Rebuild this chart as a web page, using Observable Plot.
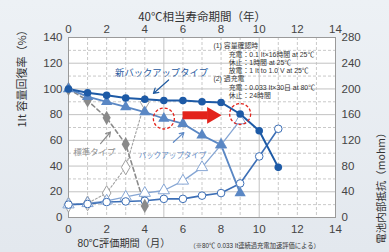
<!DOCTYPE html>
<html><head><meta charset="utf-8">
<script src="https://cdn.jsdelivr.net/npm/d3@7"></script>
<script src="https://cdn.jsdelivr.net/npm/@observablehq/plot@0.6"></script>
<style>
html,body{margin:0;padding:0;overflow:hidden;background:#e9edf1;}
</style>
</head><body>
<div id="chart"></div>
<script>
// ---- data ----
const months = [0,1,2,3,4,5,6,7,8,9,10,11];
const newCap    = [100, 97, 95, 93, 92, 91, 91, 90, 89.5, 80.5, 67.5, 39];      // 新バックアップタイプ 容量 (%)
const backupCap = [100, 94, 90, 86, 82, 77, 73, 64, 56.5, 19];                  // バックアップタイプ 容量 (%)
const stdCap    = [100, 91, 77.5, 57, 9];                                       // 標準タイプ 容量 (%)
const newRes    = [20, 21, 24, 25, 26, 29, 29, 34, 38, 53, 95, 138];            // 新バックアップタイプ 抵抗 (mohm)
const backupRes = [20, 22, 26, 32, 38, 42, 57, 78, 113, 151];                   // バックアップタイプ 抵抗 (mohm)
const stdRes    = [20, 22, 38, 78, 179];                                        // 標準タイプ 抵抗 (mohm)
const xTicks = [0,2,4,6,8,10,12,14];
const yTicks = [0,20,40,60,80,100,120,140];
const resPerPct = 2; // right axis: 280 mohm ↔ 140 %
const titleTop = "40℃相当寿命期間（年）";
const titleBottom = "80℃評価期間（月）";
const noteBottom = "（※80℃ 0.033 It連続過充電加速評価による）";
const titleLeft = "1It 容量回復率（%）";
const titleRight = "電池内部抵抗（mohm）";
const labels = [
  {x: 4.88, y: 112.5, text: "新バックアップタイプ", key: "new"},
  {x: 1.36, y: 50.5, text: "標準タイプ", key: "std"},
  {x: 5.45, y: 48.5, text: "バックアップタイプ", key: "bk"}
];
const pointers = [
  {x1: 5.25, y1: 107, x2: 4.45, y2: 96.5, key: "new"},
  {x1: 1.68, y1: 57.5, x2: 2.2, y2: 66.5, key: "std"},
  {x1: 5.5, y1: 58.5, x2: 6.05, y2: 66, key: "bk"}
];
const conditions = [
  {x: 7.6, y: 133.2, text: "(1) 容量確認時"},
  {x: 8.4, y: 126.8, text: "充電：0.1 It×16時間 at 25℃"},
  {x: 8.4, y: 120.4, text: "休止：1時間 at 25℃"},
  {x: 8.4, y: 114, text: "放電：1 It to 1.0 V at 25℃"},
  {x: 7.6, y: 107.6, text: "(2) 過充電"},
  {x: 8.4, y: 101.2, text: "充電：0.033 It×30日 at 80℃"},
  {x: 8.4, y: 94.8, text: "休止：24時間"}
];
const redArrow = {from: 5.98, to: 7.3, head: 7.52, y: 79.5};

// ---- build ----
const ser = (arr, f = v => v) => arr.map((v, i) => ({x: months[i], y: f(v)}));
const sNewCap = ser(newCap), sBkCap = ser(backupCap), sStdCap = ser(stdCap);
const toPct = v => v / resPerPct;
const sNewRes = ser(newRes, toPct), sBkRes = ser(backupRes, toPct), sStdRes = ser(stdRes, toPct);
const highlights = [{x: 5, y: backupCap[5]}, {x: 9, y: newCap[9]}];

const C = {dark: "#1d5aa6", mid: "#5a87c4", light: "#86a6d4", res: "#3d6fb6", gray: "#8a8a8a", grayL: "#a0a0a0", red: "#e3231c"};
const labelColor = {new: "#1f5aa0", std: "#8c8c8c", bk: "#5f8ac6"};
const labelSize = {new: 9.3, std: 8.4, bk: 7.5};
const font = "'Liberation Sans','Noto Sans CJK JP',sans-serif";
const jp = "'Noto Sans CJK JP','Liberation Sans',sans-serif";

const minorX = d3.range(1, 14).filter(d => d % 5 !== 0);
const majorX = [5, 10];
const minorY = d3.range(10, 140, 20);
const majorY = d3.range(20, 140, 20);

const chart = Plot.plot({
  width: 389, height: 252,
  marginLeft: 68, marginRight: 54, marginTop: 37, marginBottom: 35,
  x: {domain: [0, 14]},
  y: {domain: [0, 140]},
  style: {background: "linear-gradient(180deg,#edf1f5 0%,#e3e8ee 100%)", fontFamily: font, color: "#444"},
  marks: [
    Plot.frame({fill: "white", stroke: null}),
    Plot.gridX(minorX, {stroke: "#c9c9c9", strokeOpacity: 1, strokeDasharray: "3,2"}),
    Plot.gridX(majorX, {stroke: "#c2c2c2", strokeOpacity: 1}),
    Plot.gridY(minorY, {stroke: "#c9c9c9", strokeOpacity: 1, strokeDasharray: "3,2"}),
    Plot.gridY(majorY, {stroke: "#c2c2c2", strokeOpacity: 1}),
    Plot.frame({stroke: "#9a9a9a"}),
    Plot.axisX({anchor: "bottom", ticks: xTicks, tickSize: 0, tickPadding: 7, label: null, fontSize: 11.5}),
    Plot.axisX({anchor: "top", ticks: xTicks, tickSize: 0, tickPadding: 5, label: null, fontSize: 11.5}),
    Plot.axisY({anchor: "left", ticks: yTicks, tickSize: 0, tickPadding: 6, label: null, fontSize: 11.5}),
    Plot.axisY({anchor: "right", ticks: yTicks, tickSize: 0, tickPadding: 6, label: null, fontSize: 11.5, tickFormat: d => d * resPerPct}),
    // resistance lines
    Plot.line(sStdRes, {x: "x", y: "y", stroke: C.grayL, strokeWidth: 1.1, strokeDasharray: "2,2"}),
    Plot.line(sBkRes, {x: "x", y: "y", stroke: C.light, strokeWidth: 1.3}),
    Plot.line(sNewRes, {x: "x", y: "y", stroke: C.res, strokeWidth: 1.6}),
    // capacity lines
    Plot.line(sStdCap, {x: "x", y: "y", stroke: C.gray, strokeWidth: 1.6, strokeDasharray: "4,3"}),
    Plot.line(sBkCap, {x: "x", y: "y", stroke: C.mid, strokeWidth: 1.8}),
    Plot.line(sNewCap, {x: "x", y: "y", stroke: C.dark, strokeWidth: 2}),
    // markers
    Plot.dot(sStdRes, {x: "x", y: "y", symbol: "diamond", r: 4.5, fill: "white", stroke: C.grayL, strokeWidth: 1}),
    Plot.dot(sBkRes, {x: "x", y: "y", symbol: "triangle", r: 4.2, fill: "white", stroke: C.light, strokeWidth: 1}),
    Plot.dot(sNewRes, {x: "x", y: "y", symbol: "circle", r: 3.8, fill: "white", stroke: C.res, strokeWidth: 1}),
    Plot.dot(sStdCap, {x: "x", y: "y", symbol: "diamond", r: 4.3, fill: C.gray, stroke: "none"}),
    Plot.dot(sBkCap, {x: "x", y: "y", symbol: "triangle", r: 4.2, fill: C.mid, stroke: "none"}),
    Plot.dot(sNewCap, {x: "x", y: "y", symbol: "circle", r: 3.8, fill: C.dark, stroke: "none"}),
    // highlights
    Plot.dot(highlights, {x: "x", y: "y", r: 10.5, fill: "none", stroke: C.red, strokeWidth: 1.3, strokeDasharray: "3,2"}),
    Plot.link([redArrow], {x1: "from", x2: "to", y1: "y", y2: "y", stroke: C.red, strokeWidth: 8}),
    Plot.dot([redArrow], {x: "head", y: "y", symbol: "triangle", r: 6.2, rotate: 90, fill: C.red, stroke: "none"}),
    // series labels & pointers
    Plot.arrow(pointers, {x1: "x1", y1: "y1", x2: "x2", y2: "y2", stroke: d => labelColor[d.key], strokeWidth: 1.2, headLength: 7}),
    Plot.text(labels, {x: "x", y: "y", text: "text", fill: d => labelColor[d.key], fontFamily: jp,
      fontSize: d => labelSize[d.key], fontWeight: d => d.key === "new" ? "bold" : "normal"}),
    // conditions block
    Plot.text(conditions, {x: "x", y: "y", text: "text", textAnchor: "start", fontSize: 6.9, fill: "#333", fontFamily: font}),
    // axis titles
    Plot.text([titleTop], {frameAnchor: "top", dy: -25, text: d => d, fontSize: 11.5, fill: "#333", fontFamily: jp}),
    Plot.text([titleBottom], {frameAnchor: "bottom-left", dx: 9, dy: 29, textAnchor: "start", text: d => d, fontSize: 10.2, fill: "#333", fontFamily: font}),
    Plot.text([noteBottom], {frameAnchor: "bottom-left", dx: 121, dy: 30, textAnchor: "start", text: d => d, fontSize: 6.3, fill: "#333", fontFamily: font}),
    Plot.text([titleLeft], {frameAnchor: "left", dx: -46, rotate: -90, text: d => d, fontSize: 11, fill: "#333", fontFamily: jp}),
    Plot.text([titleRight], {frameAnchor: "right", dx: 46, rotate: -90, text: d => d, fontSize: 10.5, fill: "#333", fontFamily: jp})
  ]
});
document.getElementById("chart").appendChild(chart);
</script>
</body></html>
